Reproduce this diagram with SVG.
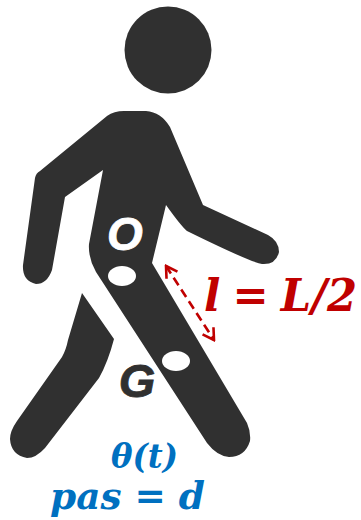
<svg xmlns="http://www.w3.org/2000/svg" width="361" height="520" viewBox="0 0 361 520">
<defs>
<style>
.fig{fill:#303030}
.hole{fill:#fff}
.lbl{font-family:"Liberation Sans",Arial,sans-serif;font-weight:700;font-style:italic}
.math{font-family:"DejaVu Serif","Liberation Serif",serif;font-weight:700;font-style:italic}
.red{fill:#c00000}
.blue{fill:#0070c0}
.conn{fill:none;stroke:#c00000;stroke-width:2.6}
</style>
<marker id="a" viewBox="0 0 16 16" refX="14" refY="8" markerWidth="16" markerHeight="16" markerUnits="userSpaceOnUse" orient="auto-start-reverse">
<path d="M3 1.500L14 8L3 14.500" fill="none" stroke="#c00000" stroke-width="2.600"/>
</marker>
</defs>
<g id="figure">
<circle id="head" class="fig" cx="168" cy="50" r="43.500"/>
<path id="body" class="fig" d="M107 116Q114 111 124 111L146 111Q161 112 170 127L203 205L268 235Q279 241 279 252Q276 265 262 264Q250 262 187 231Q181 226 166 205L152 263L247 423Q251 432 250 441Q245 457 229 457Q217 456 207 443L96 272Q88 258 89 244L103 170L65 197L52 270Q47 284 36 284Q22 281 23 265L35 178Q36 173 40 171Z"/>
<path id="backleg" class="fig" d="M82 293L114 339Q108 362 99 378L45 448Q36 458 27 458Q11 455 10 439Q10 431 17 421L62 357Q66 350 68 340Z"/>
</g>
<g id="node-o">
<ellipse class="hole" cx="122" cy="276" rx="14" ry="10"/>
<text class="lbl hole" x="125" y="250" font-size="46" text-anchor="middle" stroke="#fff" stroke-width="0.800">O</text>
</g>
<g id="node-g">
<ellipse class="hole" cx="176" cy="361" rx="14" ry="10"/>
<text class="lbl fig" x="137" y="397" font-size="47" text-anchor="middle" stroke="#303030" stroke-width="0.800">G</text>
</g>
<g id="connectors">
<line class="conn" x1="166" y1="266" x2="214" y2="340" stroke-dasharray="9 5" marker-start="url(#a)" marker-end="url(#a)"/>
</g>
<g id="labels">
<text class="math red" x="204" y="311" font-size="44" word-spacing="-3" textLength="153" lengthAdjust="spacingAndGlyphs">l = L/2</text>
<text class="math blue" x="111" y="468" font-size="34" textLength="67" lengthAdjust="spacingAndGlyphs">θ(t)</text>
<text class="math blue" x="50" y="509" font-size="38" textLength="155" lengthAdjust="spacingAndGlyphs">pas = d</text>
</g>
</svg>
